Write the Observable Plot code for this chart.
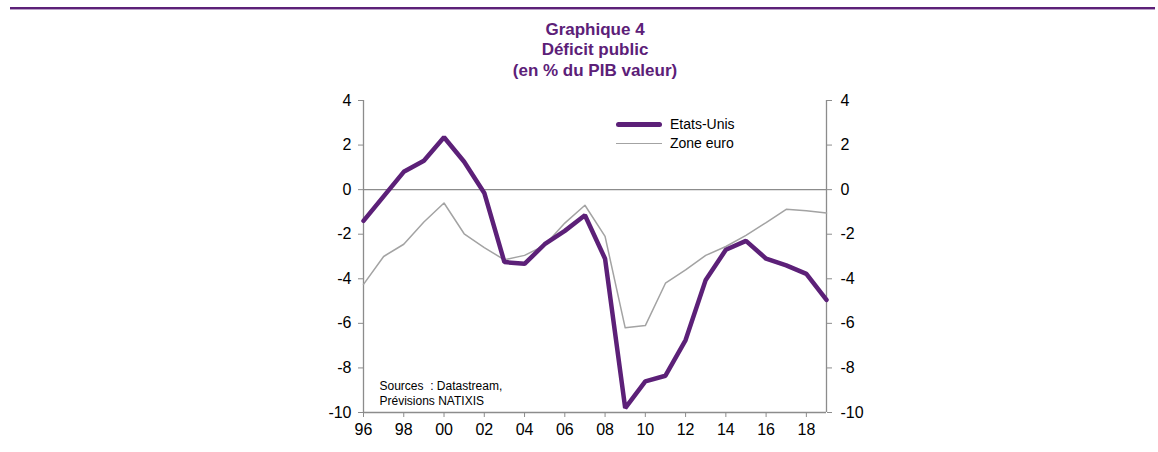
<!DOCTYPE html>
<html>
<head>
<meta charset="utf-8">
<script src="https://cdn.jsdelivr.net/npm/d3@7"></script>
<script src="https://cdn.jsdelivr.net/npm/@observablehq/plot@0.6"></script>
<style>
  html, body { margin: 0; padding: 0; background: #fff; }
  #wrap { position: relative; width: 1158px; height: 452px; overflow: hidden; font-family: "Liberation Sans", Arial, sans-serif; }
  #rule1 { position: absolute; left: 10px; right: 3px; top: 7px; height: 2px; background: #5c2078; }
  #rule2 { position: absolute; left: 10px; right: 3px; top: 9px; height: 1px; background: #b9a0c6; }
  #legend { position: absolute; left: 616px; top: 115px; font-size: 14px; color: #000; line-height: 19px; }
  #legend .row { display: flex; align-items: center; }
  #legend .sw { width: 46px; margin-right: 8px; }
  #plot { position: absolute; left: 0; top: 0; }
</style>
</head>
<body>
<div id="wrap">
  <div id="plot"></div>
  <div id="rule1"></div><div id="rule2"></div>
  <div id="legend"></div>
</div>
<script>
const years = d3.range(1996, 2020);
const etatsUnis = [-1.4, -0.3, 0.8, 1.3, 2.35, 1.25, -0.15, -3.25, -3.33, -2.45, -1.85, -1.15, -3.1, -9.8, -8.6, -8.35, -6.75, -4.05, -2.7, -2.3, -3.1, -3.4, -3.78, -4.95];
const zoneEuro = [-4.25, -3.0, -2.45, -1.45, -0.6, -1.98, -2.6, -3.15, -2.95, -2.5, -1.5, -0.7, -2.1, -6.2, -6.1, -4.2, -3.6, -2.95, -2.55, -2.05, -1.48, -0.88, -0.95, -1.05];
const xTicks = d3.range(1996, 2019, 2);
const yTicks = d3.range(-10, 5, 2);
const titleLines = ["Graphique 4", "Déficit public", "(en % du PIB valeur)"];
const sourceLines = ["Sources  : Datastream,", "Prévisions NATIXIS"];
const seriesNames = ["Etats-Unis", "Zone euro"];

const purple = "#5c2078";
const grey = "#a3a3a3";
const axisGrey = "#8c8c8c";

const us = years.map((y, i) => ({year: y, v: etatsUnis[i]}));
const eu = years.map((y, i) => ({year: y, v: zoneEuro[i]}));

const titleFont = "'Liberation Sans Narrow', 'Arial Narrow', 'Liberation Sans', Arial, sans-serif";

const chart = Plot.plot({
  width: 1158,
  height: 452,
  marginLeft: 363,
  marginRight: 332,
  marginTop: 100,
  marginBottom: 40,
  style: {fontFamily: "'Liberation Sans', Arial, sans-serif", fontSize: "16px", color: "#000", background: "transparent"},
  x: {domain: [1996, 2019]},
  y: {domain: [-10, 4]},
  marks: [
    Plot.ruleY([0], {stroke: axisGrey, strokeWidth: 1.3}),
    Plot.ruleX([1996], {stroke: axisGrey, strokeWidth: 1.3}),
    Plot.ruleX([2019], {stroke: axisGrey, strokeWidth: 1.3}),
    Plot.ruleY([-10], {stroke: axisGrey, strokeWidth: 1.3}),
    Plot.axisY({anchor: "left", ticks: yTicks, tickSize: 5, tickPadding: 7, stroke: axisGrey, label: null, fontSize: 16, tickFormat: d => String(d)}),
    Plot.axisY({anchor: "right", ticks: yTicks, tickSize: 5, tickPadding: 9, stroke: axisGrey, label: null, fontSize: 16, tickFormat: d => String(d)}),
    Plot.axisX({anchor: "bottom", ticks: xTicks, tickSize: 5, tickPadding: 6, stroke: axisGrey, label: null, fontSize: 16,
      tickFormat: d => String(d % 100).padStart(2, "0")}),
    Plot.line(eu, {x: "year", y: "v", stroke: grey, strokeWidth: 1.5}),
    Plot.line(us, {x: "year", y: "v", stroke: purple, strokeWidth: 4.5, strokeLinejoin: "miter"}),
    ...titleLines.map((t, i) => Plot.text([t], {frameAnchor: "top", text: d => d, dy: -78 + i * 20.5,
      fill: purple, fontWeight: "bold", fontSize: 17, fontFamily: titleFont})),
    ...sourceLines.map((t, i) => Plot.text([t], {frameAnchor: "bottom-left", text: d => d, dx: 16, dy: -23 + i * 15,
      textAnchor: "start", fill: "#000", fontSize: 12}))
  ]
});
document.getElementById("plot").appendChild(chart);

const legend = document.getElementById("legend");
seriesNames.forEach((name, i) => {
  const row = document.createElement("div");
  row.className = "row";
  const sw = document.createElement("div");
  sw.className = "sw";
  sw.style.height = i === 0 ? "5px" : "1.5px";
  sw.style.borderRadius = i === 0 ? "3px" : "0";
  sw.style.background = i === 0 ? purple : grey;
  const t = document.createElement("span");
  t.textContent = name;
  row.appendChild(sw); row.appendChild(t);
  legend.appendChild(row);
});
</script>
</body>
</html>
